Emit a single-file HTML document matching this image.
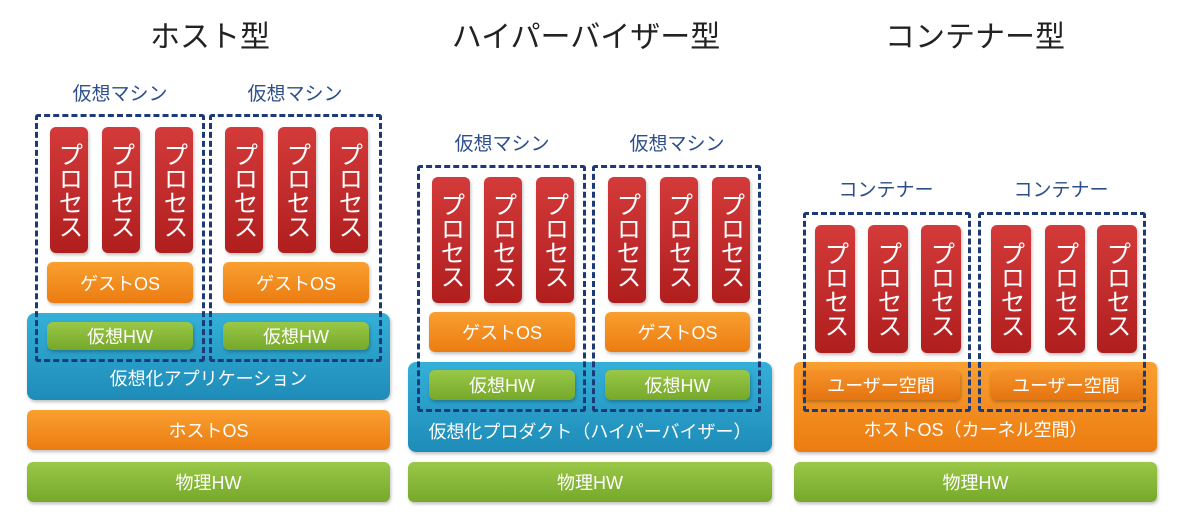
<!DOCTYPE html>
<html><head><meta charset="utf-8"><style>
*{margin:0;padding:0;box-sizing:border-box}
body{width:1191px;height:524px;background:#fff;position:relative;overflow:hidden;font-family:"Liberation Sans","Noto Sans CJK JP",sans-serif}
div{position:absolute}
.t{font-size:30px;color:#222;text-align:center;width:300px;top:20px;line-height:36px}
.l{font-size:19px;color:#2c4e8c;text-align:center;width:170px;line-height:22px}
.d{border:3px dashed #1d3a78;border-radius:3px;z-index:5}
.p{width:38px;height:126px;border-radius:6px;background:linear-gradient(#d43a3a,#b01e1e);color:#fff;font-size:25px;line-height:26px;writing-mode:vertical-rl;text-orientation:upright;display:flex;align-items:center;justify-content:center;letter-spacing:-1px;box-shadow:1px 2px 3px rgba(0,0,0,.25)}
.o{background:linear-gradient(#f9a030,#ec7c12);border-radius:6px;color:#fff;font-size:18px;display:flex;align-items:center;justify-content:center;box-shadow:1px 2px 3px rgba(0,0,0,.25)}
.g{background:linear-gradient(#9ac848,#76a82a);border-radius:6px;color:#fff;font-size:18px;display:flex;align-items:center;justify-content:center;box-shadow:1px 2px 3px rgba(0,0,0,.25)}
.b{background:linear-gradient(#34b0d8,#1e8cb8);border-radius:8px;color:#fff;font-size:18px;box-shadow:1px 2px 3px rgba(0,0,0,.25)}
.bl{position:absolute;left:0;right:0;text-align:center}
</style></head><body>

<div class="t" style="left:60px">ホスト型</div>
<div class="t" style="left:436px">ハイパーバイザー型</div>
<div class="t" style="left:825px">コンテナー型</div>

<!-- column 1 -->
<div class="l" style="left:35px;top:84px">仮想マシン</div>
<div class="l" style="left:210px;top:84px">仮想マシン</div>
<div class="b" style="left:27px;top:313px;width:363px;height:87px"><span class="bl" style="top:52px">仮想化アプリケーション</span></div>
<div class="p" style="left:50px;top:127px">プロセス</div>
<div class="p" style="left:102px;top:127px">プロセス</div>
<div class="p" style="left:155px;top:127px">プロセス</div>
<div class="p" style="left:225px;top:127px">プロセス</div>
<div class="p" style="left:278px;top:127px">プロセス</div>
<div class="p" style="left:330px;top:127px">プロセス</div>
<div class="o" style="left:47px;top:262px;width:146px;height:41px">ゲストOS</div>
<div class="o" style="left:223px;top:262px;width:146px;height:41px">ゲストOS</div>
<div class="g" style="left:47px;top:322px;width:146px;height:28px">仮想HW</div>
<div class="g" style="left:223px;top:322px;width:146px;height:28px">仮想HW</div>
<div class="d" style="left:35px;top:114px;width:170px;height:248px"></div>
<div class="d" style="left:209px;top:114px;width:173px;height:248px"></div>
<div class="o" style="left:27px;top:410px;width:363px;height:40px">ホストOS</div>
<div class="g" style="left:27px;top:462px;width:363px;height:40px">物理HW</div>

<!-- column 2 -->
<div class="l" style="left:417px;top:134px">仮想マシン</div>
<div class="l" style="left:592px;top:134px">仮想マシン</div>
<div class="b" style="left:408px;top:362px;width:364px;height:90px"><span class="bl" style="top:56px">仮想化プロダクト（ハイパーバイザー）</span></div>
<div class="p" style="left:432px;top:177px">プロセス</div>
<div class="p" style="left:484px;top:177px">プロセス</div>
<div class="p" style="left:536px;top:177px">プロセス</div>
<div class="p" style="left:608px;top:177px">プロセス</div>
<div class="p" style="left:660px;top:177px">プロセス</div>
<div class="p" style="left:712px;top:177px">プロセス</div>
<div class="o" style="left:429px;top:312px;width:146px;height:40px">ゲストOS</div>
<div class="o" style="left:605px;top:312px;width:145px;height:40px">ゲストOS</div>
<div class="g" style="left:429px;top:370px;width:146px;height:30px">仮想HW</div>
<div class="g" style="left:605px;top:370px;width:145px;height:30px">仮想HW</div>
<div class="d" style="left:417px;top:165px;width:169px;height:247px"></div>
<div class="d" style="left:592px;top:165px;width:169px;height:247px"></div>
<div class="g" style="left:408px;top:462px;width:364px;height:40px">物理HW</div>

<!-- column 3 -->
<div class="l" style="left:801px;top:180px">コンテナー</div>
<div class="l" style="left:976px;top:180px">コンテナー</div>
<div class="o" style="left:794px;top:362px;width:363px;height:90px;align-items:flex-end;padding-bottom:10px">ホストOS（カーネル空間）</div>
<div class="p" style="left:815px;top:225px;width:40px;height:128px">プロセス</div>
<div class="p" style="left:868px;top:225px;width:40px;height:128px">プロセス</div>
<div class="p" style="left:921px;top:225px;width:40px;height:128px">プロセス</div>
<div class="p" style="left:991px;top:225px;width:40px;height:128px">プロセス</div>
<div class="p" style="left:1045px;top:225px;width:40px;height:128px">プロセス</div>
<div class="p" style="left:1097px;top:225px;width:40px;height:128px">プロセス</div>
<div class="o" style="left:802px;top:370px;width:158px;height:30px;background:linear-gradient(#f5922a,#e57510)">ユーザー空間</div>
<div class="o" style="left:990px;top:370px;width:152px;height:30px;background:linear-gradient(#f5922a,#e57510)">ユーザー空間</div>
<div class="d" style="left:803px;top:212px;width:168px;height:200px"></div>
<div class="d" style="left:978px;top:212px;width:168px;height:200px"></div>
<div class="g" style="left:794px;top:462px;width:363px;height:40px">物理HW</div>

</body></html>
